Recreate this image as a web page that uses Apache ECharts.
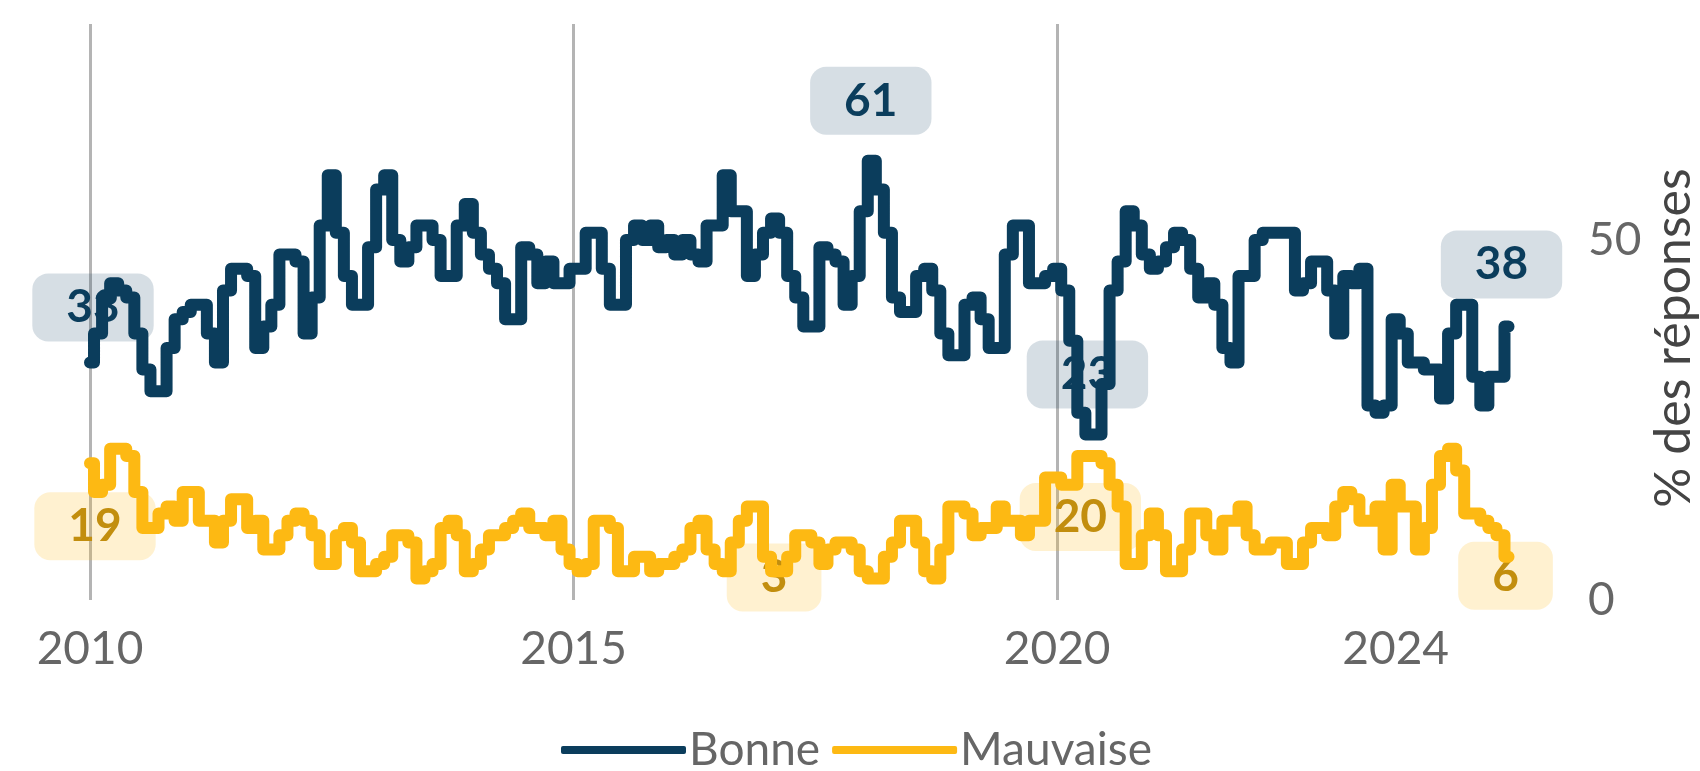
<!DOCTYPE html>
<html>
<head>
<meta charset="utf-8">
<script src="https://cdn.jsdelivr.net/npm/echarts@6.0.0/dist/echarts.min.js"></script>
<style>
  html, body { margin: 0; padding: 0; background: #ffffff; }
  #chart { width: 1700px; height: 771px; }
</style>
</head>
<body>
<div id="chart"></div>
<script>
// séries mensuelles (% des réponses)
const bonne = [
  33, 37, 42, 44, 43, 42, 37, 32, 29, 29, 35, 39, 40, 41, 41, 37, 33, 43, 46, 46, 45, 35, 38, 41, 48, 48, 47, 37, 42, 52, 59, 51, 45, 41, 41, 49,
  57, 59, 50, 47, 49, 52, 52, 50, 45, 45, 52, 55, 51, 48, 46, 44, 39, 39, 49, 48, 44, 47, 44, 44, 46, 46, 51, 51, 46, 41, 41, 50, 52, 50, 52, 49,
  50, 48, 50, 48, 47, 52, 52, 59, 54, 54, 45, 48, 51, 53, 51, 45, 42, 38, 38, 49, 48, 47, 41, 45, 54, 61, 57, 51, 42, 40, 40, 45, 46, 43, 37, 34,
  34, 41, 42, 39, 35, 35, 48, 52, 52, 44, 44, 45, 46, 43, 36, 26, 23, 23, 30, 43, 47, 54, 52, 48, 46, 47, 49, 51, 50, 46, 42, 44, 41, 35, 33, 45,
  45, 50, 51, 51, 51, 51, 43, 44, 47, 47, 43, 37, 45, 44, 46, 27, 26, 27, 39, 37, 33, 33, 32, 32, 28, 37, 41, 41, 31, 27, 31, 31, 38
]
const mauvaise = [
  19, 15, 16, 21, 21, 20, 15, 10, 10, 12, 13, 11, 15, 15, 11, 11, 8, 11, 14, 14, 10, 11, 7, 7, 9, 11, 12, 11, 9, 5, 5, 9, 10, 8, 4, 4,
  5, 6, 9, 9, 8, 3, 4, 5, 10, 11, 9, 4, 5, 7, 9, 9, 10, 11, 12, 10, 10, 9, 11, 7, 5, 4, 5, 11, 11, 10, 4, 4, 6, 6, 4, 5,
  5, 6, 7, 10, 11, 7, 5, 4, 8, 11, 13, 13, 6, 4, 4, 6, 9, 9, 8, 5, 7, 8, 8, 7, 4, 3, 3, 6, 8, 11, 11, 8, 4, 3, 7, 13,
  13, 12, 9, 10, 10, 13, 11, 11, 9, 11, 11, 17, 17, 16, 16, 20, 20, 20, 19, 16, 13, 5, 5, 9, 12, 9, 4, 4, 7, 12, 12, 9, 7, 11, 11, 13,
  9, 7, 7, 8, 8, 5, 5, 8, 10, 10, 9, 13, 15, 14, 11, 11, 13, 7, 16, 13, 13, 7, 10, 16, 20, 21, 18, 12, 12, 11, 10, 9, 6
]
// repères de l'axe des temps (indice du mois -> libellé)
const tickPos = [0, 60, 120, 162]
const tickText = ['2010', '2015', '2020', '2024']
const gridPos = [0, 60, 120]
const nbPeriods = 185
// valeurs annotées : [indice, valeur]
const bonneNotes = [[0, 33], [97, 61], [124, 23], [176, 38]]
const mauvaiseNotes = [[0, 19], [85, 3], [123, 20], [176, 6]]
// décalage des étiquettes (px)
const bonneOffsets = [[3, -55], [-1, -60], [-2, -60], [-7, -62]]
const mauvaiseOffsets = [[5, 63], [-1, -1], [-1, 61], [-3, 19]]

const periods = []
for (let i = 0; i < nbPeriods; i++) periods.push(String(i))

const font = 'Lato, "Noto Sans", sans-serif'
const blue = '#0b3d5c'
const yellow = '#fdb913'

function notes(list, offsets) {
  return list.map((n, k) => ({
    coord: [n[0], n[1]],
    value: n[1],
    label: { offset: offsets[k] }
  }))
}

function markPoint(list, offsets, bg, color) {
  return {
    z: 1,
    symbol: 'circle',
    symbolSize: 1,
    itemStyle: { color: 'rgba(0,0,0,0)' },
    label: {
      show: true,
      position: 'inside',
      formatter: '{c}',
      fontFamily: font,
      fontSize: 46,
      fontWeight: 'bold',
      color: color,
      backgroundColor: bg,
      borderRadius: 16,
      padding: [11, 34, 11, 34]
    },
    data: notes(list, offsets)
  }
}

const option = {
  animation: false,
  backgroundColor: '#ffffff',
  grid: { left: 90, right: 127, top: 24, bottom: 171 },
  legend: {
    left: 556,
    top: 722,
    itemWidth: 125,
    itemHeight: 8,
    itemGap: 12,
    icon: 'roundRect',
    textStyle: { fontFamily: font, fontSize: 46, color: '#666666', padding: [0, 0, 0, -2] },
    data: ['Bonne', 'Mauvaise']
  },
  xAxis: {
    type: 'category',
    data: periods,
    boundaryGap: false,
    axisLine: { show: false },
    axisTick: { show: false },
    axisLabel: {
      interval: (i) => tickPos.includes(i),
      formatter: (v, i) => tickText[tickPos.indexOf(i)] || '',
      margin: 26,
      fontFamily: font,
      fontSize: 46,
      color: '#666666'
    },
    splitLine: {
      show: true,
      interval: (i) => gridPos.includes(i),
      lineStyle: { color: '#b4b4b4', width: 3 }
    }
  },
  yAxis: {
    type: 'value',
    position: 'right',
    min: 0,
    max: 80,
    interval: 50,
    axisLine: { show: false },
    axisTick: { show: false },
    splitLine: { show: false },
    axisLabel: {
      margin: 15,
      formatter: (v) => (v === 0 || v === 50 ? String(v) : ''),
      fontFamily: font,
      fontSize: 46,
      color: '#666666',
      padding: [10, 0, 0, 0]
    }
  },
  graphic: [{
    type: 'text',
    x: 1674,
    y: 338,
    rotation: Math.PI / 2,
    style: {
      text: '% des réponses',
      fontFamily: font,
      fontSize: 50,
      fill: '#444444',
      align: 'center',
      verticalAlign: 'middle'
    }
  }],
  series: [
    {
      name: 'Bonne',
      type: 'line',
      step: 'middle',
      symbol: 'none',
      color: blue,
      lineStyle: { width: 12, color: blue, cap: 'round', join: 'round' },
      data: bonne,
      markPoint: markPoint(bonneNotes, bonneOffsets, 'rgba(11,61,92,0.17)', blue)
    },
    {
      name: 'Mauvaise',
      type: 'line',
      step: 'middle',
      symbol: 'none',
      color: yellow,
      lineStyle: { width: 12, color: yellow, cap: 'round', join: 'round' },
      data: mauvaise,
      markPoint: markPoint(mauvaiseNotes, mauvaiseOffsets, 'rgba(253,185,19,0.2)', '#c28e0e')
    }
  ]
}

const myChart = echarts.init(document.getElementById('chart'))
myChart.setOption(option)
window.addEventListener('resize', () => {
  myChart.resize()
})
</script>
</body>
</html>
